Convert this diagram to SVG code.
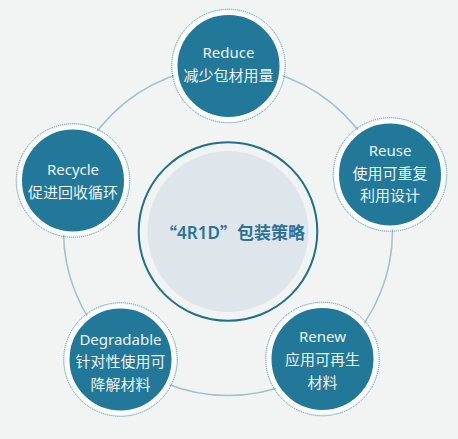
<svg xmlns="http://www.w3.org/2000/svg" width="458" height="439" viewBox="0 0 458 439">
<style>
.bg{fill:#f2f4f3}
.ring{fill:none;stroke:#a3c2cf;stroke-width:1.6}
.core-ring{fill:none;stroke:#1f6f8d;stroke-width:2}
.core{fill:#dee6ec}
.dot{fill:none;stroke:#3f8fac;stroke-width:1;stroke-dasharray:1 1}
.node{fill:#217899;stroke:#ffffff;stroke-width:4}
.t{font-family:"Noto Sans","Noto Sans CJK SC",sans-serif;font-size:15px;fill:#edf3f6;text-anchor:middle;dominant-baseline:central}
.ct{font-family:"Noto Sans","Noto Sans CJK SC",sans-serif;font-size:17px;font-weight:600;fill:#2c7292;text-anchor:middle;dominant-baseline:central}
.q{font-family:"Noto Sans CJK SC",sans-serif}
</style>
<rect class="bg" x="0" y="0" width="458" height="439"/>
<g id="connectors">
<circle class="ring" cx="228" cy="231" r="164.5"/>
</g>
<g id="center">
<circle class="core-ring" cx="228" cy="231.5" r="89.3"/>
<circle class="core" cx="228" cy="231.5" r="80.5"/>
<text class="ct" x="232.5" y="232"><tspan class="q">“</tspan>4R1D<tspan class="q">”</tspan>包装策略</text>
</g>
<g id="reduce">
<circle class="dot" cx="228.5" cy="66" r="56.8"/>
<circle class="node" cx="228.5" cy="66" r="53"/>
<text class="t" x="228.5" y="52">Reduce</text>
<text class="t" x="228.5" y="74.5">减少包材用量</text>
</g>
<g id="reuse">
<circle class="dot" cx="390" cy="174.5" r="56.8"/>
<circle class="node" cx="390" cy="174.5" r="53"/>
<text class="t" x="390" y="150">Reuse</text>
<text class="t" x="390" y="172.5">使用可重复</text>
<text class="t" x="390" y="195">利用设计</text>
</g>
<g id="recycle">
<circle class="dot" cx="73" cy="180.5" r="56.8"/>
<circle class="node" cx="73" cy="180.5" r="53"/>
<text class="t" x="73" y="169">Recycle</text>
<text class="t" x="73" y="192">促进回收循环</text>
</g>
<g id="degradable">
<circle class="dot" cx="120.5" cy="359.5" r="56.8"/>
<circle class="node" cx="120.5" cy="359.5" r="53"/>
<text class="t" x="120.5" y="338.5">Degradable</text>
<text class="t" x="120.5" y="361">针对性使用可</text>
<text class="t" x="120.5" y="383.5">降解材料</text>
</g>
<g id="renew">
<circle class="dot" cx="322.5" cy="359" r="56.8"/>
<circle class="node" cx="322.5" cy="359" r="53"/>
<text class="t" x="322.5" y="336">Renew</text>
<text class="t" x="322.5" y="358.5">应用可再生</text>
<text class="t" x="322.5" y="382">材料</text>
</g>
</svg>
